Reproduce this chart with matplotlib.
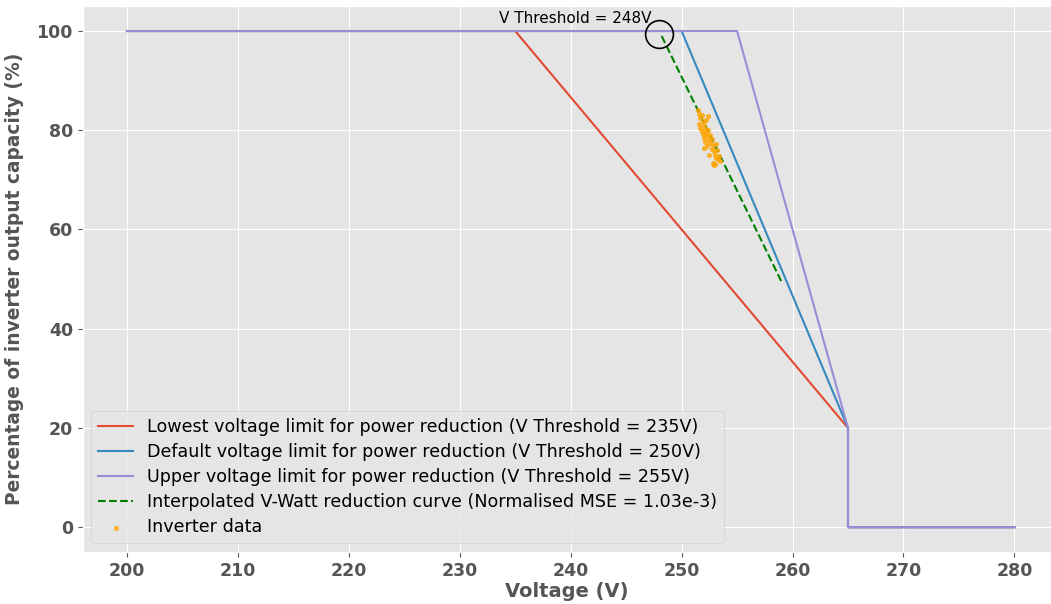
import matplotlib
matplotlib.use("Agg")
import matplotlib.pyplot as plt

plt.style.use("ggplot")
plt.rcParams['font.family'] = ['DejaVu Sans']

# Data
v_lowest = [200, 235, 265, 265, 280]
p_lowest = [100, 100, 20, 0, 0]
v_default = [200, 250, 265, 265, 280]
p_default = [100, 100, 20, 0, 0]
v_upper = [200, 255, 265, 265, 280]
p_upper = [100, 100, 20, 0, 0]
v_interp = [248.2, 259.0]
p_interp = [99.0, 49.5]
v_inv = [251.5, 251.6, 251.7, 251.8, 251.9, 251.7, 251.8, 252.0, 252.1, 252.0, 252.2,
         252.3, 252.1, 252.4, 252.5, 252.3, 252.6, 252.7, 252.5, 252.8, 252.9, 253.0,
         252.6, 252.8, 253.1, 253.2, 253.3, 253.0, 253.4, 253.5, 252.2, 252.4, 251.9,
         252.7, 253.1, 252.9, 252.0, 251.6]
p_inv = [84.0, 83.2, 82.5, 83.0, 81.8, 80.5, 79.8, 81.0, 80.2, 78.5, 79.5,
         78.8, 77.6, 80.0, 78.0, 76.8, 77.5, 76.2, 75.0, 77.0, 75.8, 75.0,
         79.0, 73.5, 74.5, 76.0, 74.2, 73.2, 74.8, 73.8, 82.0, 82.8, 79.2,
         78.2, 77.2, 73.0, 76.5, 81.2]
thr_v = 248
thr_p = 99.5
xticks = [200, 210, 220, 230, 240, 250, 260, 270, 280]
yticks = [0, 20, 40, 60, 80, 100]

fig = plt.figure(figsize=(10.51, 6.04), dpi=100)
ax = fig.add_axes([0.0786, 0.0861, 0.9214, 0.9036])

ax.plot(v_lowest, p_lowest, color='#E24A33', lw=1.5,
        label='Lowest voltage limit for power reduction (V Threshold = 235V)')
ax.plot(v_default, p_default, color='#348ABD', lw=1.5,
        label='Default voltage limit for power reduction (V Threshold = 250V)')
ax.plot(v_upper, p_upper, color='#988ED5', lw=1.5,
        label='Upper voltage limit for power reduction (V Threshold = 255V)')
ax.plot(v_interp, p_interp, color='green', ls='--', lw=1.5,
        label='Interpolated V-Watt reduction curve (Normalised MSE = 1.03e-3)')
ax.scatter(v_inv, p_inv, s=10, color='orange', alpha=0.8, zorder=3, label='Inverter data')
ax.plot([thr_v], [thr_p], marker='o', ms=20, mfc='none', mec='black', mew=1.2, ls='none')
ax.text(233.5, 102.6, 'V Threshold = 248V', fontsize=11, ha='left', va='center', color='black')

ax.set_xlim(196, 283.3)
ax.set_ylim(-5, 105)
ax.set_xticks(xticks)
ax.set_yticks(yticks)
for lab in ax.get_xticklabels() + ax.get_yticklabels():
    lab.set_fontweight('bold')
    lab.set_fontsize(12.5)
    lab.set_color('#555555')
ax.set_xlabel('Voltage (V)', fontsize=14, fontweight='bold', color='#555555', labelpad=2)
ax.set_ylabel('Percentage of inverter output capacity (%)', fontsize=13.4, fontweight='bold',
              color='#555555', labelpad=9)
ax.legend(loc='lower left', fontsize=12.6, frameon=True, labelspacing=0.4)

fig.savefig('out.png', dpi=100)
